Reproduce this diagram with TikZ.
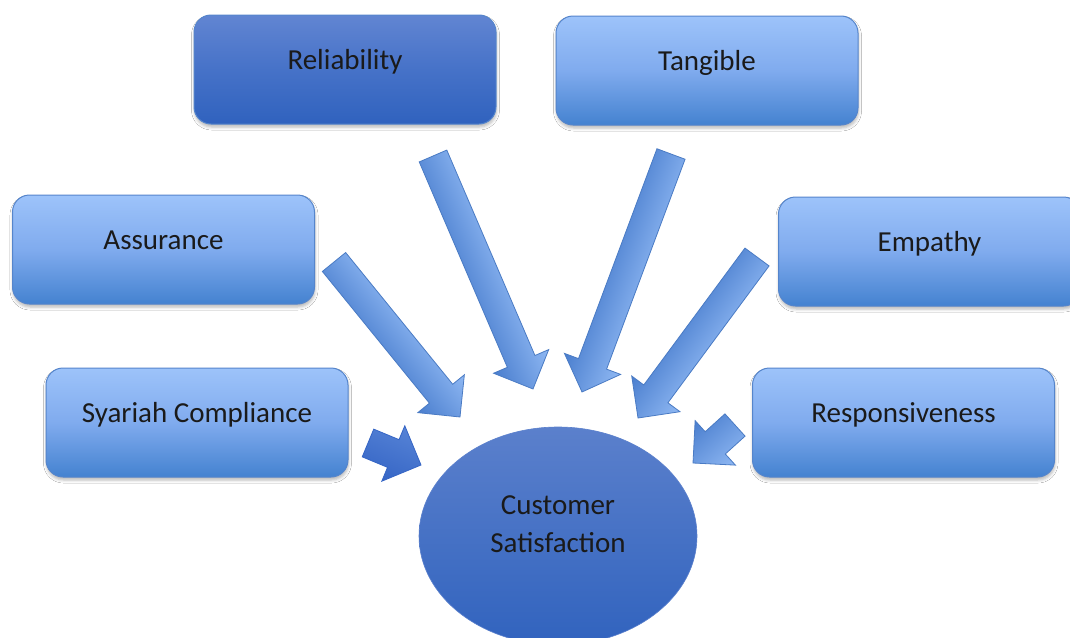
\documentclass[tikz,border=0pt]{standalone}
\usepackage{fontspec}
\setmainfont{Carlito}
\usetikzlibrary{shapes.geometric,shadows.blur,calc}
\definecolor{lbTop}{HTML}{9DC3FA}
\definecolor{lbMid}{HTML}{80ABEE}
\definecolor{lbBot}{HTML}{4482D0}
\definecolor{dbTop}{HTML}{6185D2}
\definecolor{dbMid}{HTML}{4672C8}
\definecolor{dbBot}{HTML}{3062BE}
\definecolor{edgeblue}{HTML}{5585CC}
\definecolor{arLight}{HTML}{8FB8F3}
\definecolor{arDark}{HTML}{4A7ECE}
\definecolor{arEdge}{HTML}{4A7BC4}
\definecolor{adLight}{HTML}{5683D6}
\definecolor{adDark}{HTML}{3565C5}
\definecolor{elTop}{HTML}{5B80CC}
\definecolor{elBot}{HTML}{3163BE}
\definecolor{txt}{HTML}{1A1A1A}

\newcommand\blockarrow[3]{%
  \pgfpointanchor{#1}{center}\pgfgetlastxy\baTx\baTy
  \pgfpointdiff{\pgfpointanchor{#1}{center}}{\pgfpointanchor{#2}{center}}%
  \pgfgetlastxy\baDx\baDy
  \pgfmathsetmacro\baLen{veclen(\baDx,\baDy)}%
  \pgfmathsetmacro\baAng{atan2(\baDy,\baDx)}%
  \begin{scope}[transform canvas={shift={(\baTx,\baTy)},rotate=\baAng}]
    \draw[#3] (0pt,15pt) -- (\baLen pt-30pt,15pt) -- (\baLen pt-30pt,30pt)
      -- (\baLen pt,0pt) -- (\baLen pt-30pt,-30pt) -- (\baLen pt-30pt,-15pt)
      -- (0pt,-15pt) -- cycle;
  \end{scope}}

\tikzset{
  boxbase/.style={rectangle, rounded corners=17pt, minimum width=302pt,
    minimum height=109pt, line width=1pt, draw=edgeblue,
    text height=8pt, text depth=8pt, text=txt,
    font=\fontsize{29}{34}\selectfont,
    blur shadow={shadow xshift=0.5pt, shadow yshift=-3pt, shadow blur radius=3pt, shadow opacity=28}},
  lightbox/.style={boxbase, top color=lbTop, bottom color=lbBot, middle color=lbMid},
  darkbox/.style={boxbase, top color=dbTop, bottom color=dbBot, middle color=dbMid},
  lightarrow/.style={draw=arEdge, line width=0.8pt, top color=arLight, bottom color=arDark},
  darkarrow/.style={draw=adDark, line width=0.8pt, top color=adLight, bottom color=adDark},
}

\begin{document}
\begin{tikzpicture}[x=1pt,y=-1pt]
  \useasboundingbox (0,0) rectangle (1070,637);
  \fill[white] (0,0) rectangle (1070,637);

  % boxes
  \node[darkbox]  (rel) at (345,69.5)   {Reliability};
  \node[lightbox] (tan) at (707,70.5)   {Tangible};
  \node[lightbox] (ass) at (163.5,249.5) {Assurance};
  \node[lightbox] (emp) at (929.5,251.5) {Empathy};
  \node[lightbox] (sya) at (197,422.5)  {Syariah Compliance};
  \node[lightbox] (res) at (903.5,422.5) {Responsiveness};

  % central ellipse
  \node[ellipse, minimum width=278pt, minimum height=218pt, inner sep=0pt,
        draw=elTop, line width=0.6pt, top color=elTop, bottom color=elBot] (cs) at (558,536) {};
  \node[font=\fontsize{29}{38}\selectfont, text=txt, align=center] (cstext) at (558,524)
        {Customer\\Satisfaction};

  % arrow ends
  \coordinate (relT) at (433,156);   \coordinate (relP) at (533,389);
  \coordinate (tanT) at (671,154);   \coordinate (tanP) at (582,392);
  \coordinate (assT) at (334,262);   \coordinate (assP) at (460,417);
  \coordinate (empT) at (757,257);   \coordinate (empP) at (638,418);
  \coordinate (resT) at (735,425);   \coordinate (resP) at (693,463);
  \coordinate (syaT) at (368,443);   \coordinate (syaP) at (421,465);

  \blockarrow{relT}{relP}{lightarrow}
  \blockarrow{tanT}{tanP}{lightarrow}
  \blockarrow{assT}{assP}{lightarrow}
  \blockarrow{empT}{empP}{lightarrow}
  \blockarrow{resT}{resP}{lightarrow}
  \blockarrow{syaT}{syaP}{darkarrow}
\end{tikzpicture}
\end{document}
